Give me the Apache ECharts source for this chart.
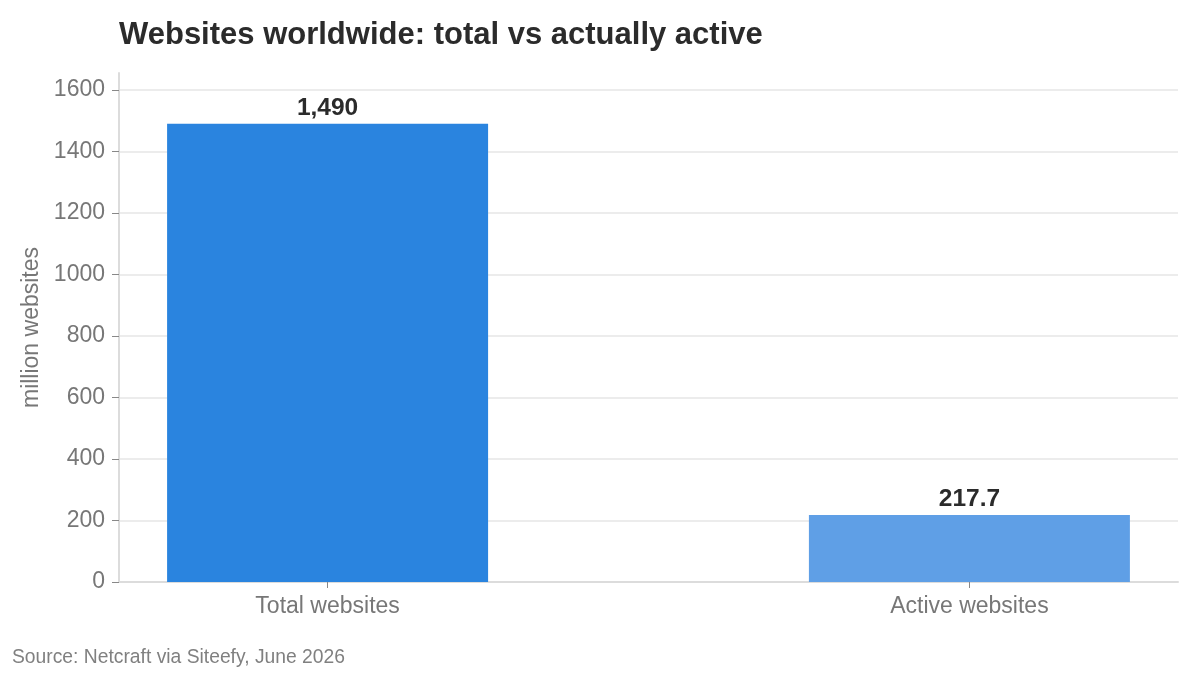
<!DOCTYPE html>
<html>
<head>
<meta charset="utf-8">
<script src="https://cdn.jsdelivr.net/npm/echarts@6/dist/echarts.min.js"></script>
<style>
  html, body { margin: 0; padding: 0; background: #fff; }
  #chart { width: 1200px; height: 675px; }
</style>
</head>
<body>
<div id="chart"></div>
<script>
// data
const categories = ['Total websites', 'Active websites'];
const values = [1490, 217.7];
const barColors = ['#2a84df', '#5f9fe6'];
const yTicks = [0, 200, 400, 600, 800, 1000, 1200, 1400, 1600];

let myChart = echarts.init(document.getElementById('chart'));

let option = {
    animation: false,
    textStyle: { fontFamily: 'Liberation Sans, Arial, sans-serif' },
    title: {
        text: 'Websites worldwide: total vs actually active',
        left: 114,
        top: 15,
        textStyle: { fontSize: 31, fontWeight: 'bold', color: '#2b2b2b' }
    },
    graphic: [{
        type: 'text',
        left: 12,
        top: 648,
        style: { text: 'Source: Netcraft via Siteefy, June 2026', fontSize: 19.3, fill: '#808080',
                 fontFamily: 'Liberation Sans, Arial, sans-serif' }
    }],
    grid: { left: 119, right: 22, top: 73, bottom: 93 },
    xAxis: {
        type: 'value',
        min: -0.325,
        max: 1.325,
        splitLine: { show: false },
        axisLine: { show: true, onZero: false, lineStyle: { color: '#dcdcdc', width: 2 } },
        axisTick: { show: true, customValues: [0, 1], length: 6, lineStyle: { color: '#888' } },
        axisLabel: {
            customValues: [0, 1],
            formatter: function (v) { return categories[Math.round(v)]; },
            fontSize: 23, color: '#777', margin: 13
        }
    },
    yAxis: {
        type: 'value',
        min: 0,
        max: 1655,
        name: 'million websites',
        nameLocation: 'middle',
        nameGap: 71,
        nameTextStyle: { fontSize: 23, color: '#777' },
        axisLine: { show: true, onZero: false, lineStyle: { color: '#dcdcdc', width: 2 } },
        axisTick: { show: true, customValues: yTicks, length: 7, lineStyle: { color: '#888' } },
        axisLabel: {
            customValues: yTicks,
            formatter: function (v) { return String(v); },
            fontSize: 23, color: '#777', margin: 14,
            padding: [5, 0, 0, 0]
        },
        splitLine: { show: true, lineStyle: { color: '#e6e6e6', width: 1.5 } }
    },
    series: [{
        type: 'bar',
        barWidth: 321,
        data: values.map(function (v, i) {
            return { value: [i, v], itemStyle: { color: barColors[i] } };
        }),
        label: {
            show: true,
            position: 'top',
            distance: 3,
            fontSize: 24.5,
            fontWeight: 'bold',
            color: '#2b2b2b',
            formatter: function (p) { return p.value[1].toLocaleString('en-US'); }
        }
    }]
};
myChart.setOption(option);
</script>
</body>
</html>
